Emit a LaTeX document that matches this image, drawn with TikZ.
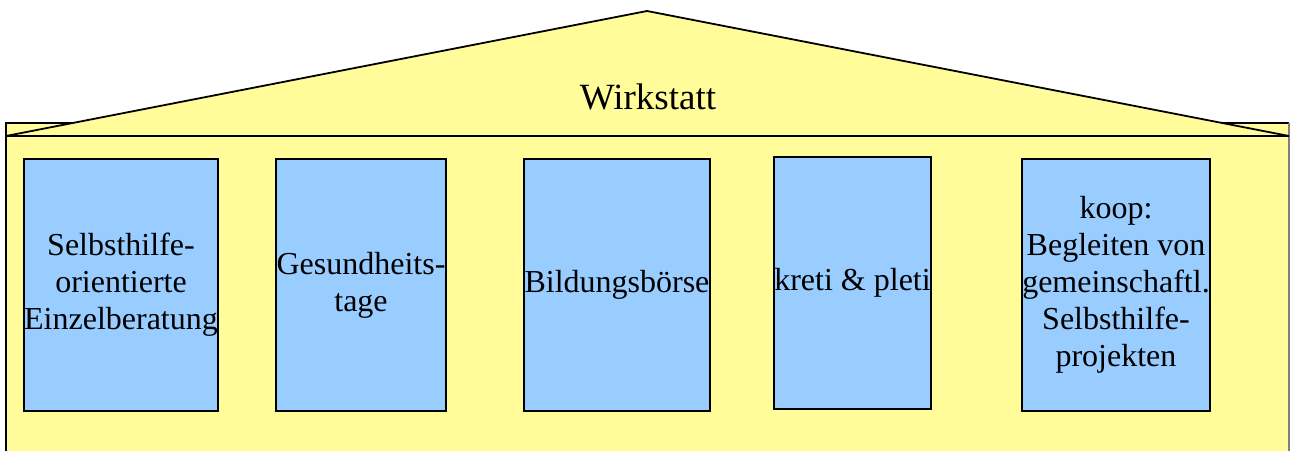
\documentclass[tikz,border=0pt]{standalone}
\usepackage{fontspec}
\setmainfont{Liberation Serif}
\usepackage{tikz}
\usetikzlibrary{positioning}
\definecolor{wallyellow}{HTML}{FFFC99}
\definecolor{pillarblue}{HTML}{99CCFF}
\tikzset{
    pillar/.style={
           rectangle,
           draw=black, line width=1pt,
           fill=pillarblue,
           minimum height=126pt,
           inner sep=0pt,
           align=center,
           font=\fontsize{16}{18.5}\selectfont,
           },
    wall/.style={
           fill=wallyellow,
           draw=black, line width=0.9pt,
           },
}

\begin{document}
\begin{tikzpicture}[x=0.5pt,y=-0.5pt]
 \useasboundingbox (0,0) rectangle (1290,450);

 % body of the building
 \fill[wallyellow] (6,123) rectangle (1289,452);
 \draw[line width=0.9pt] (6,452) -- (6,123) -- (1289,123);
 \draw[line width=0.9pt,gray] (1289,123) -- (1289,452);

 % roof
 \draw[wall] (6,136) -- (647,11) -- (1289,136) -- cycle;
 \node[font=\fontsize{18.5}{22}\selectfont] (roof) at (648,97) {Wirkstatt};

 % pillars
 \node[pillar, minimum width=97pt] (beratung) at (121,285)
 {Selbsthilfe-\\orientierte\\Einzelberatung};
 \node[pillar, minimum width=85pt] (gesund) at (361,285)
 {Gesundheits-\\tage};
 \node[pillar, minimum width=93pt] (boerse) at (617,285)
 {Bildungsbörse};
 \node[pillar, minimum width=78.5pt] (kreti) at (852.5,283)
 {kreti \& pleti};
 \node[pillar, minimum width=94pt] (koop) at (1116,285)
 {koop:\\Begleiten von\\gemeinschaftl.\\Selbsthilfe-\\projekten};

\end{tikzpicture}
\end{document}
